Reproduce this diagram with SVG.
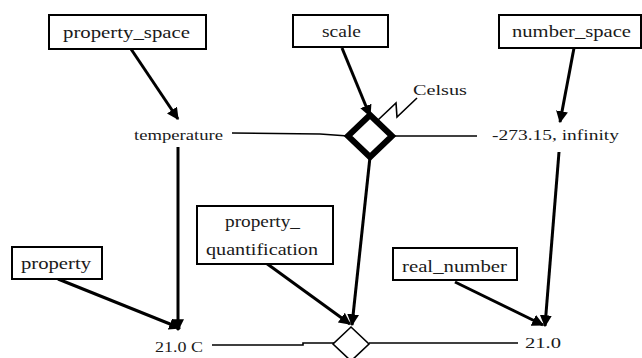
<svg xmlns="http://www.w3.org/2000/svg" width="642" height="358" viewBox="0 0 642 358">
<style>
.box{fill:#fff;stroke:#000;stroke-width:2}
.lbl{font-family:"Liberation Serif","Times New Roman",serif;font-size:17px;fill:#1a1a1a}
.sm{font-family:"Liberation Serif","Times New Roman",serif;font-size:14px;fill:#1a1a1a}
.arr{stroke:#000;stroke-width:3;fill:none;marker-end:url(#ah)}
.thin{stroke:#000;stroke-width:1.6;fill:none}
</style>
<defs>
<marker id="ah" viewBox="0 0 10 10" refX="9" refY="5" markerWidth="4" markerHeight="4" orient="auto" markerUnits="strokeWidth">
<path d="M0,0 L10,5 L0,10 Z" fill="#000"/>
</marker>
</defs>
<rect width="642" height="358" fill="#fff"/>
<g id="connectors">
<line class="arr" x1="131" y1="49" x2="178" y2="119"/>
<line class="arr" x1="342" y1="48" x2="370" y2="116"/>
<line class="arr" x1="574" y1="48" x2="560" y2="122"/>
<line class="arr" x1="178" y1="147" x2="178" y2="330"/>
<line class="arr" x1="370" y1="157" x2="352" y2="325"/>
<line class="arr" x1="559" y1="152" x2="545" y2="326"/>
<line class="arr" x1="58" y1="279" x2="180" y2="328"/>
<line class="arr" x1="266" y1="263" x2="350" y2="324"/>
<line class="arr" x1="455" y1="282" x2="543" y2="325"/>
<polyline class="thin" points="232,133 320,134 348,136"/>
<line class="thin" x1="392" y1="136" x2="477" y2="136"/>
<polyline class="thin" points="212,345 303,345 303,343 334,343"/>
<line class="thin" x1="369" y1="343" x2="518" y2="343"/>
<polyline class="thin" points="378,120 396,103 397,117 417,98"/>
</g>
<g id="property_space"><rect class="box" x="49" y="15" width="157" height="34"/><text class="lbl" x="63" y="38" textLength="127" lengthAdjust="spacingAndGlyphs">property_space</text></g>
<g id="scale"><rect class="box" x="293" y="15" width="95" height="32"/><text class="lbl" x="322" y="37" textLength="39" lengthAdjust="spacingAndGlyphs">scale</text></g>
<g id="number_space"><rect class="box" x="499" y="15" width="142" height="33"/><text class="lbl" x="512" y="37" textLength="119" lengthAdjust="spacingAndGlyphs">number_space</text></g>
<g id="temperature"><text class="sm" x="134" y="140" textLength="89" lengthAdjust="spacingAndGlyphs">temperature</text></g>
<g id="celsius_scale"><path d="M370,115 L392,136 L370,157 L348,136 Z" fill="#fff" stroke="#000" stroke-width="6"/></g>
<g id="celsus_label"><text class="sm" x="413" y="95" textLength="54" lengthAdjust="spacingAndGlyphs">Celsus</text></g>
<g id="range"><text class="sm" x="492" y="140" textLength="127" lengthAdjust="spacingAndGlyphs">-273.15, infinity</text></g>
<g id="property"><rect class="box" x="12" y="247" width="90" height="32"/><text class="lbl" x="21" y="269" textLength="70" lengthAdjust="spacingAndGlyphs">property</text></g>
<g id="property_quantification"><rect class="box" x="197" y="206" width="136" height="58"/><text class="lbl" x="225" y="227" textLength="75" lengthAdjust="spacingAndGlyphs">property_</text><text class="lbl" x="206" y="255" textLength="112" lengthAdjust="spacingAndGlyphs">quantification</text></g>
<g id="real_number"><rect class="box" x="393" y="248" width="124" height="32"/><text class="lbl" x="402" y="272" textLength="105" lengthAdjust="spacingAndGlyphs">real_number</text></g>
<g id="value_21C"><text class="sm" x="155" y="352" textLength="48" lengthAdjust="spacingAndGlyphs">21.0 C</text></g>
<g id="quantification"><path d="M351,327 L369,344 L351,361 L333,344 Z" fill="#fff" stroke="#000" stroke-width="1.6"/></g>
<g id="value_21"><text class="sm" x="525" y="348" textLength="36" lengthAdjust="spacingAndGlyphs">21.0</text></g>
</svg>
